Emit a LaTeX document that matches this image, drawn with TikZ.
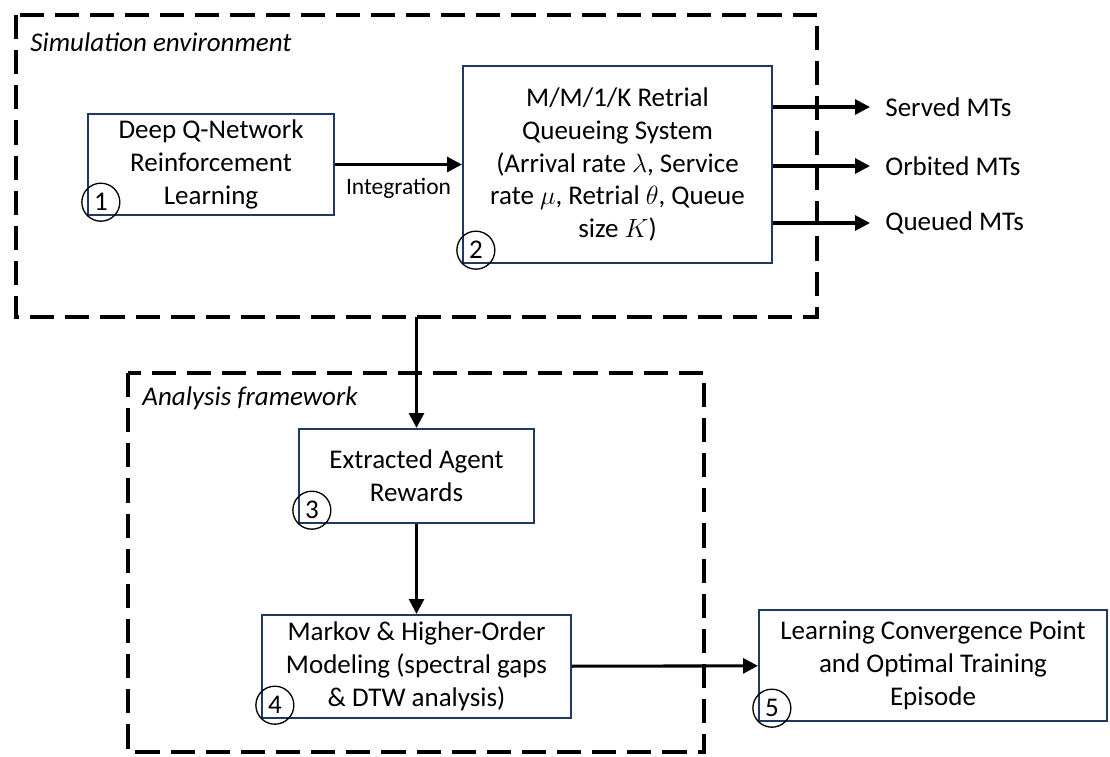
\documentclass[tikz,border=0pt]{standalone}
\usepackage{fontspec}
\setmainfont{Carlito}
\usepackage{amsmath}
\usepackage{tikz}
\usetikzlibrary{positioning, arrows.meta}

\definecolor{boxblue}{RGB}{31,56,100}

\begin{document}
\begin{tikzpicture}[
    x=0.016cm, y=-0.016cm,
    >={Triangle[length=6.8pt, width=6.8pt]},
    block/.style={draw=boxblue, line width=1pt, align=center, inner sep=2pt,
        font=\fontsize{12.3}{15}\selectfont},
    stepnum/.style={circle, draw=black, line width=0.6pt, minimum size=0.608cm,
        inner sep=0pt, font=\fontsize{12.3}{15}\selectfont},
    frame/.style={line width=1.6pt, dash pattern=on 11pt off 5pt},
    framelabel/.style={anchor=west, inner sep=0pt, font=\fontsize{12.3}{15}\itshape},
    outlabel/.style={anchor=west, inner xsep=6.8pt, font=\fontsize{12.3}{15}\selectfont},
    flow/.style={->, line width=1.4pt}
]
\useasboundingbox (0,0) rectangle (1110,756);

% Dashed frames
\draw[frame] (16,15) rectangle (817,317);
\draw[frame] (128,373) rectangle (704,752);
\coordinate (simbottom) at (416.5,317);
\node[framelabel] (simlabel) at (30,42) {Simulation environment};
\node[framelabel] (analabel) at (142,398) {Analysis framework};

% Blocks
\node[block, minimum width=3.936cm, minimum height=1.616cm] (dqn) at (211,164.5)
    {Deep Q-Network\\Reinforcement\\Learning};
\node[block, minimum width=4.944cm, minimum height=3.152cm] (queue) at (617.5,164.5)
    {M/M/1/K Retrial\\Queueing System\\(Arrival rate $\lambda$, Service\\rate $\mu$, Retrial $\theta$, Queue\\size $K$)};
\node[block, minimum width=3.76cm, minimum height=1.504cm] (rewards) at (416.5,476)
    {Extracted Agent\\Rewards};
\node[block, minimum width=4.944cm, minimum height=1.648cm] (markov) at (416.5,666.5)
    {Markov \& Higher-Order\\Modeling (spectral gaps\\\& DTW analysis)};
\node[block, minimum width=5.568cm, minimum height=1.776cm] (converge) at (933,665.5)
    {Learning Convergence Point\\and Optimal Training\\Episode};

% Step numbers
\node[stepnum, anchor=south west] (n1) at (dqn.south west) {1};
\node[stepnum, anchor=south west] (n2) at (queue.south west) {2};
\node[stepnum, anchor=south west] (n3) at (rewards.south west) {3};
\node[stepnum, anchor=south west] (n4) at (markov.south west) {4};
\node[stepnum, anchor=south west] (n5) at (converge.south west) {5};

% Outputs of the queueing system
\node[outlabel] (served) at (870,107) {Served MTs};
\node[outlabel] (orbited) at (870,166) {Orbited MTs};
\node[outlabel] (queued) at (870,223) {Queued MTs};
\foreach \out in {served, orbited, queued}
    \draw[flow] (queue.east |- \out.west) -- (\out.west);

% Flow between blocks
\draw[flow] (dqn) -- (queue) node[midway, below=2pt, font=\fontsize{10.7}{13}\selectfont] {Integration};
\draw[flow] (simbottom) -- (rewards);
\draw[flow] (rewards) -- (markov);
\draw[flow] (markov) -- (converge);

\end{tikzpicture}
\end{document}
